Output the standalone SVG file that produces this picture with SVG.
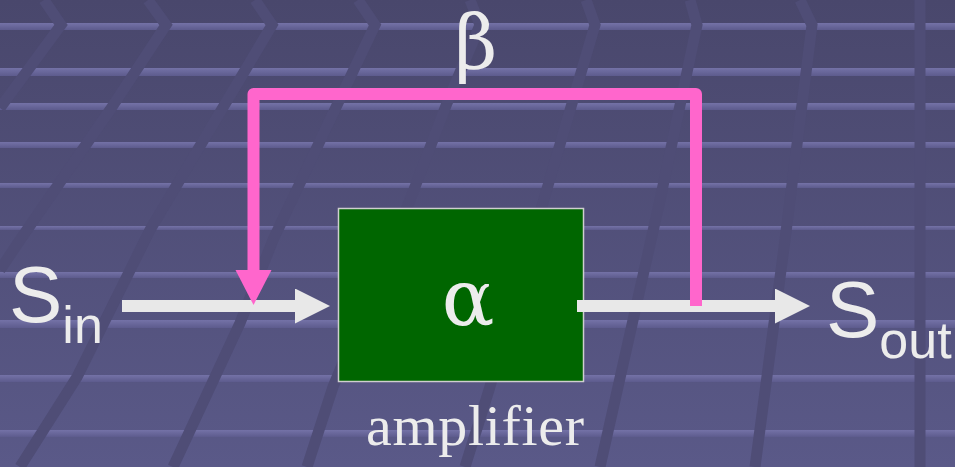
<svg xmlns="http://www.w3.org/2000/svg" width="955" height="467" viewBox="0 0 955 467">
<defs>
<linearGradient id="bg" x1="0" y1="0" x2="0" y2="1">
<stop offset="0" stop-color="#49476c"/>
<stop offset="1" stop-color="#5a5988"/>
</linearGradient>
<linearGradient id="st" x1="0" y1="0" x2="0" y2="1">
<stop offset="0" stop-color="#7472a7"/>
<stop offset="1" stop-color="#5d5b8d"/>
</linearGradient>
<marker id="wh" markerUnits="userSpaceOnUse" markerWidth="36" markerHeight="36" refX="1" refY="17.5" orient="auto" viewBox="0 0 36 36">
<path d="M0,0 L35,17.5 L0,35 z" fill="#e8e8e8"/>
</marker>
<marker id="pk" markerUnits="userSpaceOnUse" markerWidth="36" markerHeight="37" refX="1" refY="18" orient="auto" viewBox="0 0 36 37">
<path d="M0,0 L35,18 L0,36 z" fill="#ff66cc"/>
</marker>
</defs>
<style>
.stripe{fill:url(#st)}
.band{fill:none;stroke:#4f4d76;stroke-width:11}
.lbl{fill:#ececec}
.sans{font-family:"Liberation Sans",Arial,sans-serif}
.serif{font-family:"Liberation Serif","Times New Roman",serif}
.greek{font-family:"DejaVu Serif","Liberation Serif",serif}
.wline{stroke:#e8e8e8;stroke-width:12;fill:none;marker-end:url(#wh)}
.pline{stroke:#ff66cc;stroke-width:12;fill:none;stroke-linejoin:round;marker-end:url(#pk)}
</style>
<g id="background">
<rect x="0" y="0" width="955" height="467" fill="url(#bg)"/>
<rect class="stripe" x="0" y="23" width="955" height="7"/>
<rect class="stripe" x="0" y="68" width="955" height="8"/>
<rect class="stripe" x="0" y="103" width="955" height="7"/>
<rect class="stripe" x="0" y="142" width="955" height="6"/>
<rect class="stripe" x="0" y="183" width="955" height="5"/>
<rect class="stripe" x="0" y="226" width="955" height="4"/>
<rect class="stripe" x="0" y="272" width="955" height="6"/>
<rect class="stripe" x="0" y="320" width="955" height="8"/>
<rect class="stripe" x="0" y="375" width="955" height="7"/>
<rect class="stripe" x="0" y="430" width="955" height="7"/>
<polyline class="band" points="44,0 61,25 0,108"/>
<polyline class="band" points="148,0 166,25 110,110 20,240 0,270"/>
<polyline class="band" points="255,0 272,25 150,230 77,377 20,467"/>
<polyline class="band" points="358,0 375,25 273,240 240,323 173,467"/>
<polyline class="band" points="470,0 480,25 447,103 410,200 333,387 307,467"/>
<polyline class="band" points="586,0 595,25 532,240 489,390 465,467"/>
<polyline class="band" points="690,0 697,25 660,200 600,467"/>
<polyline class="band" points="800,0 812,25 785,240 755,467"/>
<polyline class="band" points="920,0 920,467"/>
</g>
<g id="amplifier">
<rect x="338.5" y="208.5" width="245" height="173" fill="#006600" stroke="#cfcfcf" stroke-width="1.5"/>
<text class="lbl greek" x="468" y="325" font-size="78" text-anchor="middle">α</text>
<text class="lbl serif" x="366" y="445" font-size="58" textLength="218" lengthAdjust="spacing">amplifier</text>
</g>
<g id="s-in">
<text class="lbl sans" x="9" y="322" font-size="80">S<tspan dy="21" font-size="52">in</tspan></text>
</g>
<g id="s-out">
<text class="lbl sans" x="826" y="337" font-size="80">S<tspan dy="21" font-size="52">out</tspan></text>
</g>
<g id="beta">
<text class="lbl greek" x="476" y="68" font-size="74" text-anchor="middle">β</text>
</g>
<g id="connectors">
<path class="wline" d="M122,306 L296,306"/>
<path class="wline" d="M577,306 L776,306"/>
<path class="pline" d="M696,306 L696,94 L253.5,94 L253.5,271"/>
</g>
</svg>
